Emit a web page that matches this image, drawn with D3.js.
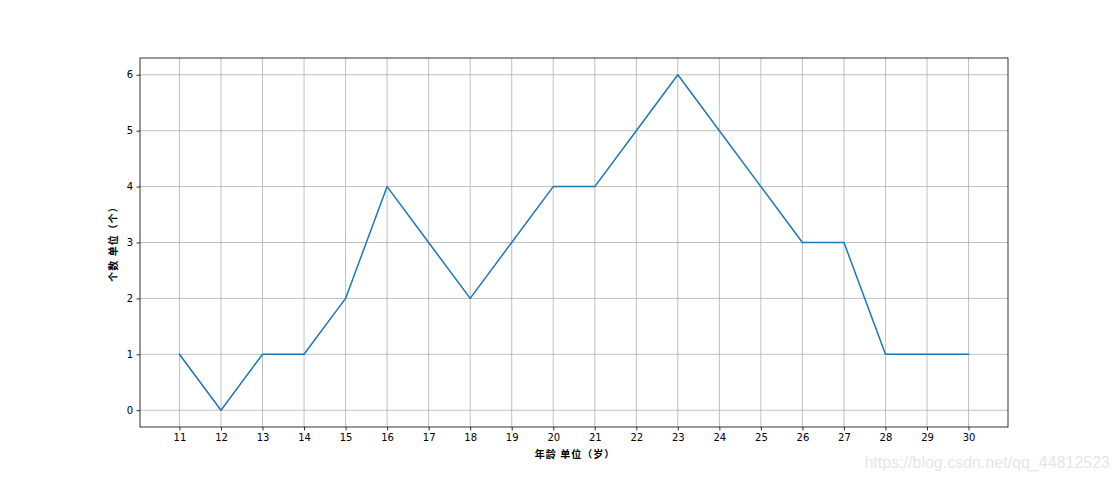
<!DOCTYPE html>
<html><head><meta charset="utf-8">
<script src="https://cdn.jsdelivr.net/npm/d3@7"></script>
<style>body{margin:0;background:#fff;}svg{display:block;}</style>
</head><body>
<svg id="chart" width="1120" height="480"></svg>
<script>
const ages = [11,12,13,14,15,16,17,18,19,20,21,22,23,24,25,26,27,28,29,30];
const counts = [1,0,1,1,2,4,3,2,3,4,4,5,6,5,4,3,3,1,1,1];
const yTicks = [0,1,2,3,4,5,6];
const xLabel = "年龄 单位（岁）";
const yLabel = "个数 单位（个）";
const watermark = "https://blog.csdn.net/qq_44812523";

const svg = d3.select("#chart");
const L = 140, R = 1008, T = 58, B = 427;
const x = d3.scaleLinear().domain([10.05, 30.95]).range([L, R]);
const y = d3.scaleLinear().domain([-0.3, 6.3]).range([B, T]);

const font = "'DejaVu Sans', sans-serif";
const cjk = "'Noto Sans CJK SC', sans-serif";

// grid
const g = svg.append("g");
g.selectAll(".vg").data(ages).enter().append("line")
  .attr("x1", d => x(d)).attr("x2", d => x(d)).attr("y1", T).attr("y2", B)
  .attr("stroke", "#b0b0b0").attr("stroke-width", 0.8);
g.selectAll(".hg").data(yTicks).enter().append("line")
  .attr("x1", L).attr("x2", R).attr("y1", d => y(d)).attr("y2", d => y(d))
  .attr("stroke", "#b0b0b0").attr("stroke-width", 0.8);

// line
svg.append("path").datum(ages.map((a, i) => [a, counts[i]]))
  .attr("fill", "none").attr("stroke", "#1f77b4").attr("stroke-width", 1.5)
  .attr("stroke-linejoin", "round").attr("stroke-linecap", "square")
  .attr("d", d3.line().x(d => x(d[0])).y(d => y(d[1])));

// axes
const xAxis = d3.axisBottom(x).tickValues(ages).tickFormat(d3.format("d")).tickSize(3.5).tickPadding(3.5);
const yAxis = d3.axisLeft(y).tickValues(yTicks).tickFormat(d3.format("d")).tickSize(3.5).tickPadding(3.5);
const xa = svg.append("g").attr("transform", `translate(0,${B})`).call(xAxis);
const ya = svg.append("g").attr("transform", `translate(${L},0)`).call(yAxis);
[xa, ya].forEach(a => {
  a.select(".domain").remove();
  a.selectAll(".tick line").attr("stroke", "#000").attr("stroke-width", 0.8);
  a.selectAll(".tick text").attr("fill", "#000").style("font-family", font).style("font-size", "10px");
});

// frame
svg.append("rect").attr("x", L).attr("y", T).attr("width", R - L).attr("height", B - T)
  .attr("fill", "none").attr("stroke", "#000").attr("stroke-width", 0.8);

// labels
svg.append("text").attr("x", (L + R) / 2 + 1).attr("y", 458).attr("text-anchor", "middle")
  .style("font-family", cjk).style("font-size", "10px").style("font-weight", "bold")
  .style("letter-spacing", "1px").text(xLabel);
svg.append("text").attr("transform", `translate(117,${(T + B) / 2 - 1}) rotate(-90)`).attr("text-anchor", "middle")
  .style("font-family", cjk).style("font-size", "10px").style("font-weight", "bold")
  .style("letter-spacing", "1px").text(yLabel);

// watermark
svg.append("text").attr("x", 1110).attr("y", 468).attr("text-anchor", "end")
  .style("font-family", "'Liberation Sans', Arial, sans-serif").style("font-size", "16px")
  .attr("fill", "#e6e6e6").text(watermark);
</script>
</body></html>
